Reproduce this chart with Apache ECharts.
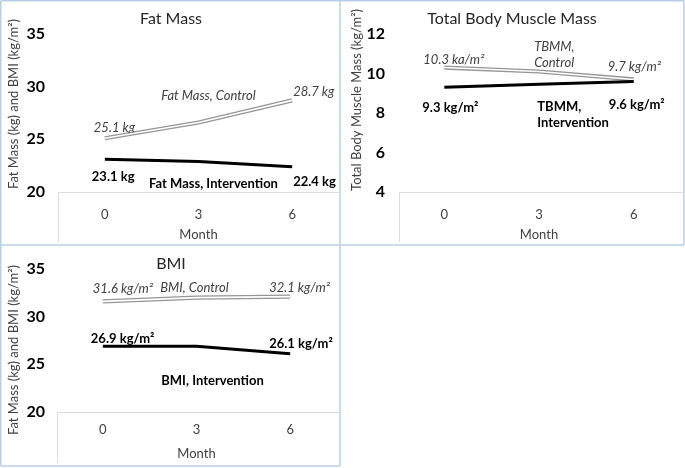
<!DOCTYPE html>
<html>
<head>
<meta charset="utf-8">
<script src="https://cdn.jsdelivr.net/npm/echarts@6/dist/echarts.min.js"></script>
<style>
html,body{margin:0;padding:0;background:#fff;}
#chart{width:685px;height:468px;}
</style>
</head>
<body>
<div id="chart"></div>
<script>
// ---- data ----
var months = ['0', '3', '6'];
var fatControl = [25.1, 26.6, 28.7];
var fatIntervention = [23.1, 22.9, 22.4];
var tbmmControl = [10.3, 10.1, 9.7];
var tbmmIntervention = [9.3, 9.45, 9.6];
var bmiControl = [31.6, 32.0, 32.1];
var bmiIntervention = [26.9, 26.9, 26.1];

var fatControlText = ['25.1 kg', 'Fat Mass, Control', '28.7 kg'];
var fatInterventionText = ['23.1 kg', 'Fat Mass, Intervention', '22.4 kg'];
var tbmmControlText = ['10.3 ka/m²', 'TBMM,\nControl', '9.7 kg/m²'];
var tbmmInterventionText = ['9.3 kg/m²', 'TBMM,\nIntervention', '9.6 kg/m²'];
var bmiControlText = ['31.6 kg/m²', 'BMI, Control', '32.1 kg/m²'];
var bmiInterventionText = ['26.9 kg/m²', 'BMI, Intervention', '26.1 kg/m²'];

var panelTitles = ['Fat Mass', 'Total Body Muscle Mass', 'BMI'];
var yTitles = ['Fat Mass (kg) and BMI (kg/m²)', 'Total Body Muscle Mass (kg/m²)', 'Fat Mass (kg) and BMI (kg/m²)'];

// ---- styling ----
var FAMILY = 'Lato';
var FONT = 'Lato, "Open Sans", sans-serif';
var LABEL_SIZE = 13;
var italicStyle = {fontStyle: 'italic', fontWeight: 'normal', color: '#404040', fontSize: LABEL_SIZE, fontFamily: FONT};
var boldStyle = {fontStyle: 'normal', fontWeight: 'bold', color: '#000', fontSize: LABEL_SIZE, fontFamily: FONT};

// label placements: [align, dx, dy]  (dx = left edge or centre relative to point)
var place = {
  fatC: [['left', -11, -10], ['center', 10, -27], ['left', 1, -9]],
  fatI: [['left', -13, 17], ['center', 15, 22], ['left', 1, 15]],
  tbC: [['left', -21, -8], ['left', -4, -17], ['left', -26, -13]],
  tbI: [['left', -22, 20], ['left', -1, 30], ['left', -25, 23]],
  bmiC: [['left', -10, -13], ['center', -2, -10], ['left', -21, -9]],
  bmiI: [['left', -12, -7], ['center', 16, 35], ['left', -21, -10]]
};

var measureCtx = document.createElement('canvas').getContext('2d');
function textWidth(t, style) {
  measureCtx.font = style.fontStyle + ' ' + style.fontWeight + ' ' + style.fontSize + 'px ' + FAMILY;
  return measureCtx.measureText(t).width;
}

function items(values, texts, pl, style) {
  return values.map(function (v, i) {
    var p = pl[i];
    var lines = texts[i].split('\n');
    var w = Math.max.apply(null, lines.map(function (l) { return textWidth(l, style); }));
    var dx = p[0] === 'left' ? p[1] + w / 2 : p[1];
    var lab = Object.assign({
      show: true, position: 'inside', offset: [dx, p[2]], lineHeight: 16
    }, style);
    if (lines.length > 1) {
      lab.formatter = lines.map(function (l) { return '{t|' + l + '}'; }).join('\n');
      lab.rich = {t: Object.assign({width: Math.ceil(w) + 1, align: 'left', lineHeight: 16}, style)};
    } else {
      lab.formatter = texts[i];
    }
    return {value: v, label: lab};
  });
}

function controlSeries(idx, values, texts, pl) {
  return [
    {type: 'line', xAxisIndex: idx, yAxisIndex: idx, symbol: 'circle', symbolSize: 0.1,
     itemStyle: {color: 'rgba(0,0,0,0)'}, silent: true, animation: false, z: 2,
     lineStyle: {color: '#959595', width: 4.2}, data: items(values, texts, pl, italicStyle)},
    {type: 'line', xAxisIndex: idx, yAxisIndex: idx, symbol: 'none', silent: true, animation: false, z: 3,
     lineStyle: {color: '#ffffff', width: 1.6}, data: values.slice()}
  ];
}
function interventionSeries(idx, values, texts, pl) {
  return [
    {type: 'line', xAxisIndex: idx, yAxisIndex: idx, symbol: 'circle', symbolSize: 0.1,
     itemStyle: {color: 'rgba(0,0,0,0)'}, silent: true, animation: false, z: 4,
     lineStyle: {color: '#000000', width: 3}, data: items(values, texts, pl, boldStyle)}
  ];
}

var grids = [
  {left: 58, top: 34, width: 281, height: 158},
  {left: 397, top: 34, width: 284, height: 158},
  {left: 56, top: 269, width: 281, height: 143}
];
var yRanges = [[20, 35, 5], [4, 12, 2], [20, 35, 5]];
var yLabelMargins = [13, 12, 11];
var xLabelMargins = [16, 16, 11];
var xNameGaps = [36, 36, 35];

var xAxes = grids.map(function (g, i) {
  return {
    type: 'category', gridIndex: i, data: months, boundaryGap: true,
    axisLine: {show: false}, axisTick: {show: false},
    axisLabel: {color: '#404040', fontSize: 13, fontFamily: FONT, margin: xLabelMargins[i]},
    name: 'Month', nameLocation: 'middle', nameGap: xNameGaps[i],
    nameTextStyle: {color: '#404040', fontSize: 13, fontFamily: FONT}
  };
});
var yAxes = grids.map(function (g, i) {
  return {
    type: 'value', gridIndex: i, min: yRanges[i][0], max: yRanges[i][1], interval: yRanges[i][2],
    axisLine: {show: false}, axisTick: {show: false}, splitLine: {show: false},
    axisLabel: {color: '#000', fontSize: 16, fontWeight: 'bold', fontFamily: FONT, margin: yLabelMargins[i]}
  };
});

var series = [].concat(
  controlSeries(0, fatControl, fatControlText, place.fatC),
  interventionSeries(0, fatIntervention, fatInterventionText, place.fatI),
  controlSeries(1, tbmmControl, tbmmControlText, place.tbC),
  interventionSeries(1, tbmmIntervention, tbmmInterventionText, place.tbI),
  controlSeries(2, bmiControl, bmiControlText, place.bmiC),
  interventionSeries(2, bmiIntervention, bmiInterventionText, place.bmiI)
);

// decorations
var BORDER = '#b7cfe6';
var BOX = '#dcdcdc';
function line(x1, y1, x2, y2, color, w) {
  return {type: 'line', silent: true, z: 1, shape: {x1: x1, y1: y1, x2: x2, y2: y2}, style: {stroke: color, lineWidth: w}};
}
function text(t, x, y, style, rot) {
  return {type: 'text', silent: true, x: x, y: y, rotation: rot || 0,
    style: Object.assign({text: t, align: 'center', verticalAlign: 'middle', fontFamily: FONT}, style)};
}
var graphic = [
  // panel borders
  line(0.75, 0.75, 684, 0.75, BORDER, 1.5),
  line(0.75, 0.75, 0.75, 466, BORDER, 1.5),
  line(340, 0.75, 340, 466, BORDER, 1.5),
  line(684, 0.75, 684, 245, BORDER, 1.5),
  line(0.75, 245, 684, 245, BORDER, 1.5),
  line(0.75, 466, 340, 466, BORDER, 1.5),
  // category-axis boxes
  line(58, 192.5, 339, 192.5, BOX, 1),
  line(58.5, 192.5, 58.5, 242, BOX, 1),
  line(399, 192.5, 683, 192.5, BOX, 1),
  line(399.5, 192.5, 399.5, 242, BOX, 1),
  line(57, 412.5, 339, 412.5, BOX, 1),
  line(57.5, 412.5, 57.5, 463, BOX, 1),
  // titles
  text(panelTitles[0], 171, 19, {fontSize: 16, fill: '#262626'}),
  text(panelTitles[1], 512, 19, {fontSize: 16, fill: '#262626'}),
  text(panelTitles[2], 171, 264, {fontSize: 16, fill: '#262626'}),
  // y-axis titles
  text(yTitles[0], 13.5, 104, {fontSize: 13, fill: '#404040'}, Math.PI / 2),
  text(yTitles[1], 357, 100, {fontSize: 13, fill: '#404040'}, Math.PI / 2),
  text(yTitles[2], 13.5, 350, {fontSize: 13, fill: '#404040'}, Math.PI / 2)
];

var chart = echarts.init(document.getElementById('chart'), null, {renderer: 'canvas'});
chart.setOption({
  animation: false,
  backgroundColor: '#ffffff',
  textStyle: {fontFamily: FONT},
  grid: grids,
  xAxis: xAxes,
  yAxis: yAxes,
  series: series,
  graphic: graphic
});
</script>
</body>
</html>
